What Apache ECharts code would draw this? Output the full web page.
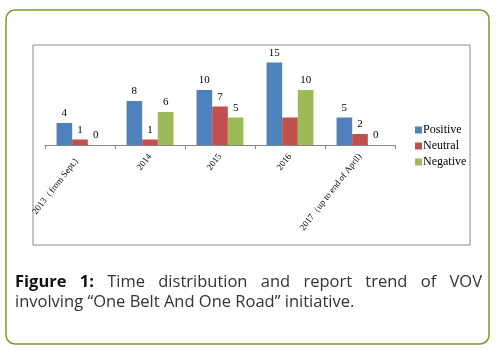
<!DOCTYPE html>
<html>
<head>
<meta charset="utf-8">
<script src="https://cdn.jsdelivr.net/npm/echarts@6/dist/echarts.min.js"></script>
<style>
  html, body { margin: 0; padding: 0; background: #fff; }
  #main { width: 502px; height: 350px; }
</style>
</head>
<body>
<div id="main"></div>
<script>
var categories = ['2013（from Sept.）', '2014', '2015', '2016', '2017（up to end of April)'];
var positive = [4, 8, 10, 15, 5];
var neutral = [1, 1, 7, 5, 2];
var negative = [0, 6, 5, 10, 0];
var hiddenNeutralLabel = [3]; // 2016 neutral has no label in the figure

// caption: first line is justified, so words are laid out one by one
var captionLine1 = [
  ['Figure', true], ['1:', true], ['Time'], ['distribution'],
  ['and'], ['report'], ['trend'], ['of'], ['VOV']
];
var captionLine2 = 'involving “One Belt And One Road” initiative.';

var chartDom = document.getElementById('main');
var myChart = echarts.init(chartDom);
var option;

const colors = ['#4F81BD', '#C0504D', '#9BBB59'];
const serif = 'Liberation Serif';
const captionFont = 'Open Sans';
const captionSize = 16.5;

const labelOption = {
  show: true,
  position: 'top',
  distance: 4,
  fontFamily: serif,
  fontSize: 11,
  color: '#000'
};

// justify line 1 between x=15 and x=482
var ctx = document.createElement('canvas').getContext('2d');
var widths = captionLine1.map(function (w) {
  ctx.font = (w[1] ? 'bold ' : '') + captionSize + 'px "' + captionFont + '"';
  return ctx.measureText(w[0]).width;
});
var total = widths.reduce(function (a, b) { return a + b; }, 0);
var gap = (482 - 15 - total) / (captionLine1.length - 1);
var xPos = 15;
var captionGraphics = captionLine1.map(function (w, i) {
  var g = {
    type: 'text',
    x: xPos,
    y: 282,
    style: {
      text: w[0],
      fontFamily: captionFont,
      fontSize: captionSize,
      fontWeight: w[1] ? 'bold' : 'normal',
      fill: w[1] ? '#111' : '#333',
      verticalAlign: 'middle'
    }
  };
  xPos += widths[i] + gap;
  return g;
});
captionGraphics.push({
  type: 'text',
  x: 15,
  y: 302,
  style: {
    text: captionLine2,
    fontFamily: captionFont,
    fontSize: captionSize,
    fill: '#333',
    verticalAlign: 'middle'
  }
});

option = {
  color: colors,
  animation: false,
  grid: {
    left: 45,
    right: 107,
    top: 57,
    bottom: 205
  },
  legend: {
    orient: 'vertical',
    left: 410,
    top: 119,
    itemWidth: 7,
    itemHeight: 7,
    itemGap: 4,
    icon: 'rect',
    textStyle: {
      fontFamily: serif,
      fontSize: 12,
      color: '#000',
      padding: [0, 0, 0, -4]
    },
    data: ['Positive', 'Neutral', 'Negative']
  },
  xAxis: {
    type: 'category',
    data: categories,
    axisLine: { lineStyle: { color: '#868686' } },
    axisTick: { show: true, length: 4, interval: 0, lineStyle: { color: '#868686' } },
    axisLabel: {
      interval: 0,
      rotate: 52,
      margin: 10,
      fontFamily: serif,
      fontSize: 9,
      color: '#000'
    }
  },
  yAxis: {
    type: 'value',
    min: 0,
    max: 16,
    show: false,
    splitLine: { show: false }
  },
  graphic: [
    {
      type: 'rect',
      shape: { x: 6, y: 10, width: 483, height: 334, r: 9 },
      style: { fill: 'none', stroke: '#7a9a2e', lineWidth: 1.5 }
    },
    {
      type: 'rect',
      shape: { x: 33, y: 45, width: 437, height: 200 },
      style: { fill: 'none', stroke: '#8c8c8c', lineWidth: 1 }
    }
  ].concat(captionGraphics),
  series: [
    {
      name: 'Positive',
      type: 'bar',
      barGap: 0,
      barCategoryGap: '33%',
      label: labelOption,
      data: positive
    },
    {
      name: 'Neutral',
      type: 'bar',
      label: labelOption,
      data: neutral.map(function (v, i) {
        return hiddenNeutralLabel.indexOf(i) >= 0 ? { value: v, label: { show: false } } : v;
      })
    },
    {
      name: 'Negative',
      type: 'bar',
      label: labelOption,
      data: negative
    }
  ]
};

option && myChart.setOption(option);
</script>
</body>
</html>
